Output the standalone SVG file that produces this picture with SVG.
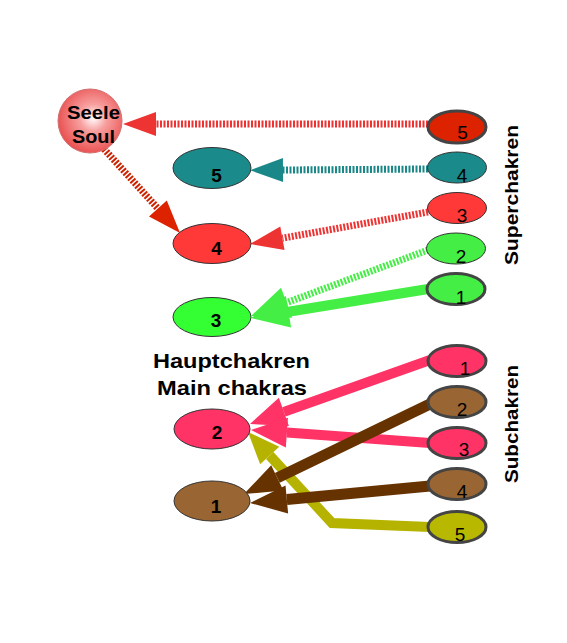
<svg xmlns="http://www.w3.org/2000/svg" width="567" height="643" viewBox="0 0 567 643">
<style>
.lbl{font-family:"Liberation Sans",Arial,sans-serif;font-weight:bold;fill:#000;text-anchor:middle}
.nl{font-family:"Liberation Sans",Arial,sans-serif;font-weight:bold;font-size:19px;fill:#000;text-anchor:middle}
.nr{font-family:"Liberation Sans",Arial,sans-serif;font-size:19px;fill:#000;text-anchor:middle}
.thin{stroke:#333;stroke-width:1}
.thick{stroke:#444;stroke-width:3}
.str{fill:none;stroke-width:7;stroke-dasharray:2 1.5}
.sol{fill:none}
</style>
<defs>
<radialGradient id="soulG" cx="0.55" cy="0.45" r="0.6">
<stop offset="0" stop-color="#ffffff"/>
<stop offset="0.35" stop-color="#f8a0a0"/>
<stop offset="1" stop-color="#e84848"/>
</radialGradient>
<marker id="aRed" markerUnits="userSpaceOnUse" markerWidth="34" markerHeight="24" refX="0" refY="12" orient="auto" overflow="visible"><path d="M0,0 L33,12 L0,24 z" fill="#ee3333"/></marker>
<marker id="aDark" markerUnits="userSpaceOnUse" markerWidth="34" markerHeight="24" refX="0" refY="12" orient="auto" overflow="visible"><path d="M0,0 L33,12 L0,24 z" fill="#dd2200"/></marker>
<marker id="aTeal" markerUnits="userSpaceOnUse" markerWidth="34" markerHeight="24" refX="0" refY="12" orient="auto" overflow="visible"><path d="M0,0 L33,12 L0,24 z" fill="#1a8888"/></marker>
<marker id="aGreen" markerUnits="userSpaceOnUse" markerWidth="39" markerHeight="32" refX="0" refY="16" orient="auto" overflow="visible"><path d="M0,0 L38,16 L0,32 z" fill="#44ee44"/></marker>
<marker id="aPink" markerUnits="userSpaceOnUse" markerWidth="37" markerHeight="30" refX="0" refY="15" orient="auto" overflow="visible"><path d="M0,0 L36,15 L0,30 z" fill="#ff3366"/></marker>
<marker id="aBrown" markerUnits="userSpaceOnUse" markerWidth="38" markerHeight="28" refX="0" refY="14" orient="auto" overflow="visible"><path d="M0,0 L37,14 L0,28 z" fill="#663300"/></marker>
<marker id="aOlive" markerUnits="userSpaceOnUse" markerWidth="33" markerHeight="26" refX="0" refY="13" orient="auto" overflow="visible"><path d="M0,0 L32,13 L0,26 z" fill="#b5b300"/></marker>
</defs>
<rect width="567" height="643" fill="#ffffff"/>
<g id="connectors">
<line class="str" x1="428" y1="124" x2="156" y2="124" stroke="#ee3333" marker-end="url(#aRed)"/>
<line class="str" x1="104" y1="149" x2="157.9" y2="208.5" stroke="#cc2200" stroke-width="8" marker-end="url(#aDark)"/>
<line class="str" x1="428" y1="169" x2="283" y2="170" stroke="#1a8888" marker-end="url(#aTeal)"/>
<line class="str" x1="428" y1="212" x2="282.4" y2="238.2" stroke="#ee3333" marker-end="url(#aRed)"/>
<line class="str" x1="428" y1="250" x2="286.6" y2="302.7" stroke="#44ee44" marker-end="url(#aGreen)"/>
<line class="sol" x1="428" y1="289" x2="288.5" y2="311.8" stroke="#44ee44" stroke-width="10" marker-end="url(#aGreen)"/>
<polyline class="sol" points="430,527 332,523 269.7,455.5" stroke="#b5b300" stroke-width="10" stroke-linejoin="miter" marker-end="url(#aOlive)"/>
<line class="sol" x1="430" y1="360" x2="283.9" y2="411.9" stroke="#ff3366" stroke-width="10" marker-end="url(#aPink)"/>
<line class="sol" x1="430" y1="443" x2="286.9" y2="432.6" stroke="#ff3366" stroke-width="10" marker-end="url(#aPink)"/>
<line class="sol" x1="430" y1="404" x2="277.3" y2="477.9" stroke="#663300" stroke-width="11" marker-end="url(#aBrown)"/>
<line class="sol" x1="430" y1="486" x2="286.8" y2="499.5" stroke="#663300" stroke-width="11" marker-end="url(#aBrown)"/>
</g>
<g id="soul">
<circle cx="90" cy="121" r="32" fill="url(#soulG)" stroke="#d07070" stroke-width="1"/>
<text class="lbl" x="93.5" y="119" font-size="18" textLength="53" lengthAdjust="spacingAndGlyphs">Seele</text>
<text class="lbl" x="93.5" y="143" font-size="18" textLength="43" lengthAdjust="spacingAndGlyphs">Soul</text>
</g>
<g id="main5"><ellipse cx="212" cy="168" rx="39" ry="20.5" fill="#1a8a8a" class="thin"/><text class="nl" x="216.5" y="182">5</text></g>
<g id="main4"><ellipse cx="212" cy="243.5" rx="39" ry="20" fill="#ff3838" class="thin"/><text class="nl" x="216.5" y="255">4</text></g>
<g id="main3"><ellipse cx="212" cy="317" rx="39" ry="19.5" fill="#33ff33" class="thin"/><text class="nl" x="216" y="327">3</text></g>
<g id="main2"><ellipse cx="212" cy="429" rx="38" ry="20" fill="#ff3366" class="thin"/><text class="nl" x="217" y="439">2</text></g>
<g id="main1"><ellipse cx="212" cy="501" rx="38" ry="20" fill="#996633" class="thin"/><text class="nl" x="216" y="513">1</text></g>
<g id="mainLabel">
<text class="lbl" x="231.5" y="368" font-size="21" textLength="157" lengthAdjust="spacingAndGlyphs">Hauptchakren</text>
<text class="lbl" x="232" y="395" font-size="21" textLength="150" lengthAdjust="spacingAndGlyphs">Main chakras</text>
</g>
<g id="super5"><ellipse cx="457" cy="127" rx="29" ry="16" fill="#dd2200" class="thick"/><text class="nr" x="462.5" y="139">5</text></g>
<g id="super4"><ellipse cx="457" cy="167.5" rx="29.5" ry="15.5" fill="#1a8a8a" class="thin"/><text class="nr" x="462" y="182">4</text></g>
<g id="super3"><ellipse cx="457" cy="208" rx="29.5" ry="15.5" fill="#ff3838" class="thin"/><text class="nr" x="462" y="222">3</text></g>
<g id="super2"><ellipse cx="456" cy="248.5" rx="29.5" ry="15.5" fill="#44ee44" class="thin"/><text class="nr" x="461" y="263">2</text></g>
<g id="super1"><ellipse cx="456" cy="289" rx="29" ry="15.5" fill="#44ee44" class="thick"/><text class="nr" x="461" y="304">1</text></g>
<g id="sub1"><ellipse cx="457" cy="361" rx="29" ry="15.5" fill="#ff3366" class="thick"/><text class="nr" x="465" y="375">1</text></g>
<g id="sub2"><ellipse cx="457" cy="402" rx="29" ry="15.5" fill="#996633" class="thick"/><text class="nr" x="462" y="416">2</text></g>
<g id="sub3"><ellipse cx="457" cy="443" rx="29" ry="15.5" fill="#ff3366" class="thick"/><text class="nr" x="464" y="456">3</text></g>
<g id="sub4"><ellipse cx="457" cy="484" rx="29" ry="15.5" fill="#996633" class="thick"/><text class="nr" x="462" y="498">4</text></g>
<g id="sub5"><ellipse cx="457" cy="527" rx="29" ry="15.5" fill="#b8b800" class="thick"/><text class="nr" x="460" y="541">5</text></g>
<g id="groupLabels">
<text class="lbl" font-size="18" transform="translate(518,195) rotate(-90)" textLength="140" lengthAdjust="spacingAndGlyphs">Superchakren</text>
<text class="lbl" font-size="18" transform="translate(518,424) rotate(-90)" textLength="118" lengthAdjust="spacingAndGlyphs">Subchakren</text>
</g>
</svg>
